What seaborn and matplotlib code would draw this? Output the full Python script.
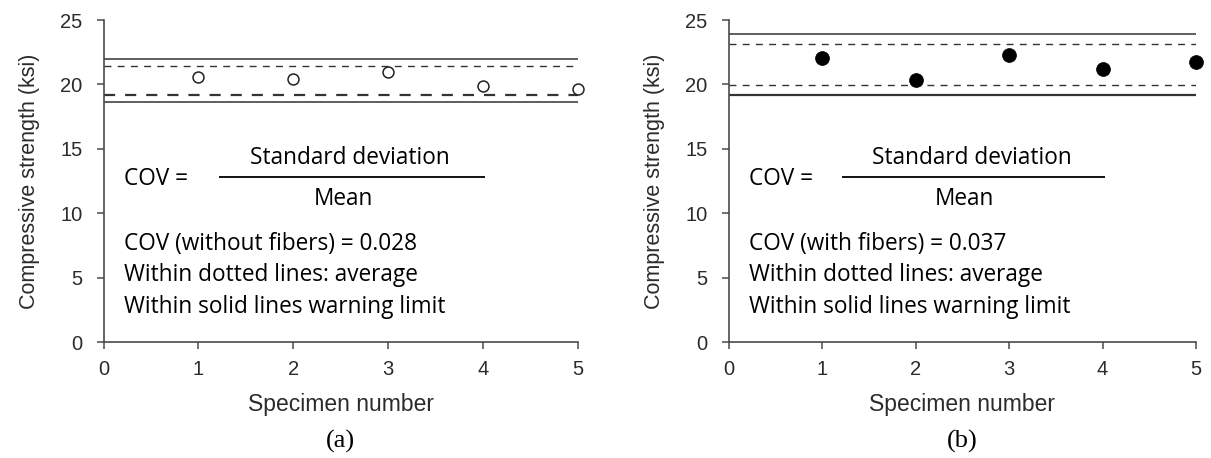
import matplotlib
matplotlib.use("Agg")
import matplotlib.pyplot as plt
import seaborn as sns
import pandas as pd

# Specimen numbers and compressive strengths (ksi)
specimens = [1, 2, 3, 4, 5]
strength_plain = [20.6, 20.4, 21.0, 19.9, 19.65]
strength_fiber = [22.03, 20.34, 22.28, 21.17, 21.72]

# Control limits: (upper, lower) for average band (dashed) and warning band (solid)
avg_band_plain = [21.43, 19.18]
warn_band_plain = [21.95, 18.66]
avg_band_fiber = [23.14, 19.93]
warn_band_fiber = [23.91, 19.18]

cov_labels = ["COV (without fibers) = 0.028", "COV (with fibers) = 0.037"]
captions = ["(a)", "(b)"]
y_ticks = [0, 5, 10, 15, 20, 25]
x_ticks = [0, 1, 2, 3, 4, 5]

sns.set_theme(style="white")
plt.rcParams["font.family"] = ["Liberation Sans", "DejaVu Sans"]

W, H = 1211, 458
fig = plt.figure(figsize=(W / 100, H / 100), dpi=100, facecolor="white")

axes_px = [(103.5, 578.0), (728.5, 1196.0)]
y_top, y_bot = 20.0, 342.0

axis_col = "#4a4a4a"
label_col = "#2b2b2b"
note_font = ["Open Sans", "DejaVu Sans"]
note_size = 16.3


def panel(ax, values, avg_band, warn_band, filled, cov_text):
    df = pd.DataFrame({"Specimen": specimens, "Strength": values})
    for yv, lw in zip(warn_band, [1.1, 1.6] if filled else [1.1, 1.1]):
        ax.axhline(yv, color="#333333", lw=lw, zorder=2)
    for yv, lw in zip(avg_band, [1.0, 1.0] if filled else [1.0, 1.6]):
        ax.axhline(yv, color="#333333", lw=lw, ls=(0, (5, 4.5)), zorder=2)
    if filled:
        sns.scatterplot(data=df, x="Specimen", y="Strength", ax=ax, s=100,
                        color="black", edgecolor="black", linewidth=0.5,
                        zorder=3, clip_on=False, legend=False)
    else:
        sns.scatterplot(data=df, x="Specimen", y="Strength", ax=ax, s=62,
                        facecolor="white", edgecolor="#222222", linewidth=1.1,
                        zorder=3, clip_on=False, legend=False)

    ax.set_xlim(0, 5)
    ax.set_ylim(0, 25)
    ax.set_xticks(x_ticks)
    ax.set_yticks(y_ticks)
    for s in ["top", "right"]:
        ax.spines[s].set_visible(False)
    for s in ["left", "bottom"]:
        ax.spines[s].set_color(axis_col)
        ax.spines[s].set_linewidth(1.2)
    ax.tick_params(axis="both", direction="out", length=5, width=1.1,
                   color=axis_col, labelcolor=label_col, labelsize=14.5,
                   left=True, bottom=True)
    ax.tick_params(axis="x", pad=8)
    ax.tick_params(axis="y", pad=10)
    ax.set_xlabel("Specimen number", fontsize=16.5, color=label_col, labelpad=10)
    ax.set_ylabel("Compressive strength (ksi)", fontsize=15.5, color=label_col,
                  labelpad=15)

    # COV definition and notes
    tr = ax.transAxes
    ax.text(0.044, 0.4866, "COV =", transform=tr, fontsize=note_size,
            family=note_font, color="black", va="baseline", ha="left")
    ax.plot([0.243, 0.805], [0.5134, 0.5134], transform=tr, color="black",
            lw=1.3, solid_capstyle="butt")
    ax.text(0.52, 0.553, "Standard deviation", transform=tr, fontsize=note_size,
            family=note_font, color="black", va="baseline", ha="center")
    ax.text(0.505, 0.4255, "Mean", transform=tr, fontsize=note_size,
            family=note_font, color="black", va="baseline", ha="center")
    for yy, txt in zip([0.2857, 0.1879, 0.0901],
                       [cov_text, "Within dotted lines: average",
                        "Within solid lines warning limit"]):
        ax.text(0.044, yy, txt, transform=tr, fontsize=note_size, family=note_font,
                color="black", va="baseline", ha="left")


datasets = [
    (strength_plain, avg_band_plain, warn_band_plain, False),
    (strength_fiber, avg_band_fiber, warn_band_fiber, True),
]

for i, ((x0, x1), (vals, avg, warn, filled)) in enumerate(zip(axes_px, datasets)):
    ax = fig.add_axes([x0 / W, (H - y_bot) / H, (x1 - x0) / W, (y_bot - y_top) / H])
    ax.set_facecolor("white")
    panel(ax, vals, avg, warn, filled, cov_labels[i])
    fig.text((x0 + x1) / 2 / W, 1 - 441.5 / H, captions[i], ha="center",
             va="center", fontsize=19, family=["Liberation Serif", "DejaVu Serif"],
             color="black")

fig.savefig("out.png", dpi=100, facecolor="white")
